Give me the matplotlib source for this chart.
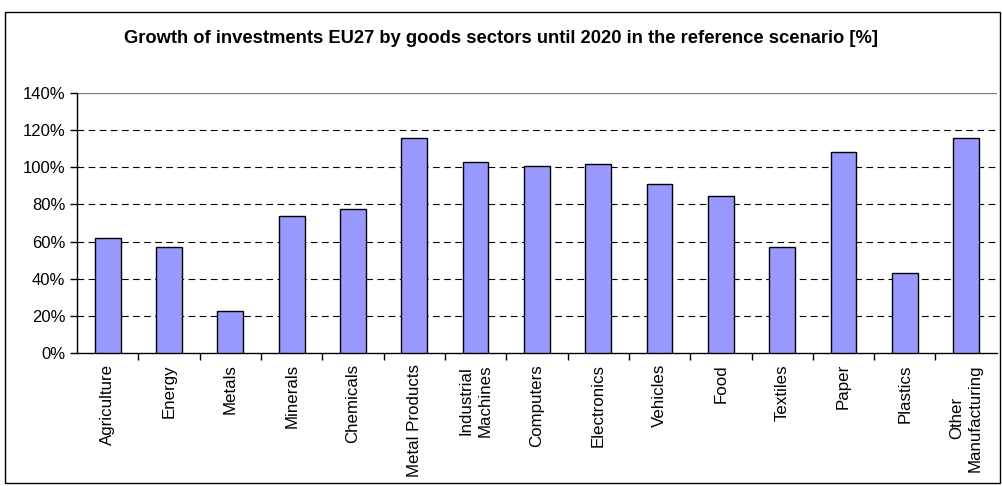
import matplotlib.pyplot as plt
from matplotlib.patches import Rectangle
from matplotlib.ticker import PercentFormatter

plt.rcParams['font.family'] = ['Liberation Sans', 'DejaVu Sans']

# data
sectors = ["Agriculture", "Energy", "Metals", "Minerals", "Chemicals", "Metal Products",
           "Industrial\nMachines", "Computers", "Electronics", "Vehicles", "Food",
           "Textiles", "Paper", "Plastics", "Other\nManufacturing"]
growth = [62, 57, 22.5, 73.5, 77.5, 115.5, 103, 100.5, 102, 91, 84.5, 57, 108, 43, 115.5]
y_ticks = [0, 20, 40, 60, 80, 100, 120, 140]

fig = plt.figure(figsize=(10.03, 4.86), dpi=100)
ax = fig.add_axes([0.0768, 0.2737, 0.917, 0.535])

x = range(len(sectors))
ax.bar(x, growth, width=0.42, color="#9999FF", edgecolor="black", linewidth=1.0, zorder=3)

ax.set_xlim(-0.5, len(sectors) - 0.5)
ax.set_ylim(0, 140)
ax.set_yticks(y_ticks)
ax.yaxis.set_major_formatter(PercentFormatter(decimals=0))
ax.tick_params(axis='y', labelsize=12, length=5, direction='out', width=1)

# category labels between boundary ticks, like Excel
ax.set_xticks(list(x))
ax.set_xticklabels(sectors, rotation=90, fontsize=12.2, linespacing=1.3,
                   multialignment='center')
ax.tick_params(axis='x', length=0, pad=8)
ax.set_xticks([i + 0.5 for i in range(len(sectors) - 1)], minor=True)
ax.tick_params(axis='x', which='minor', length=5, width=1, direction='out')

for v in y_ticks[1:-1]:
    ax.axhline(v, color="black", linestyle=(0, (6, 4)), linewidth=0.8, zorder=1)
ax.axhline(140, color="#808080", linewidth=1.0, zorder=1)

for s in ["top", "right"]:
    ax.spines[s].set_visible(False)
ax.spines["left"].set_linewidth(1.0)
ax.spines["bottom"].set_linewidth(1.0)

fig.text(0.5, 0.92, "Growth of investments EU27 by goods sectors until 2020 in the reference scenario [%]",
         ha="center", va="center", fontsize=13.2, fontweight="bold")

fig.patches.append(Rectangle((5 / 1003, 3 / 486), 995 / 1003, 471 / 486, transform=fig.transFigure,
                             fill=False, edgecolor="black", linewidth=1.0))

fig.savefig("out.png", dpi=100)
